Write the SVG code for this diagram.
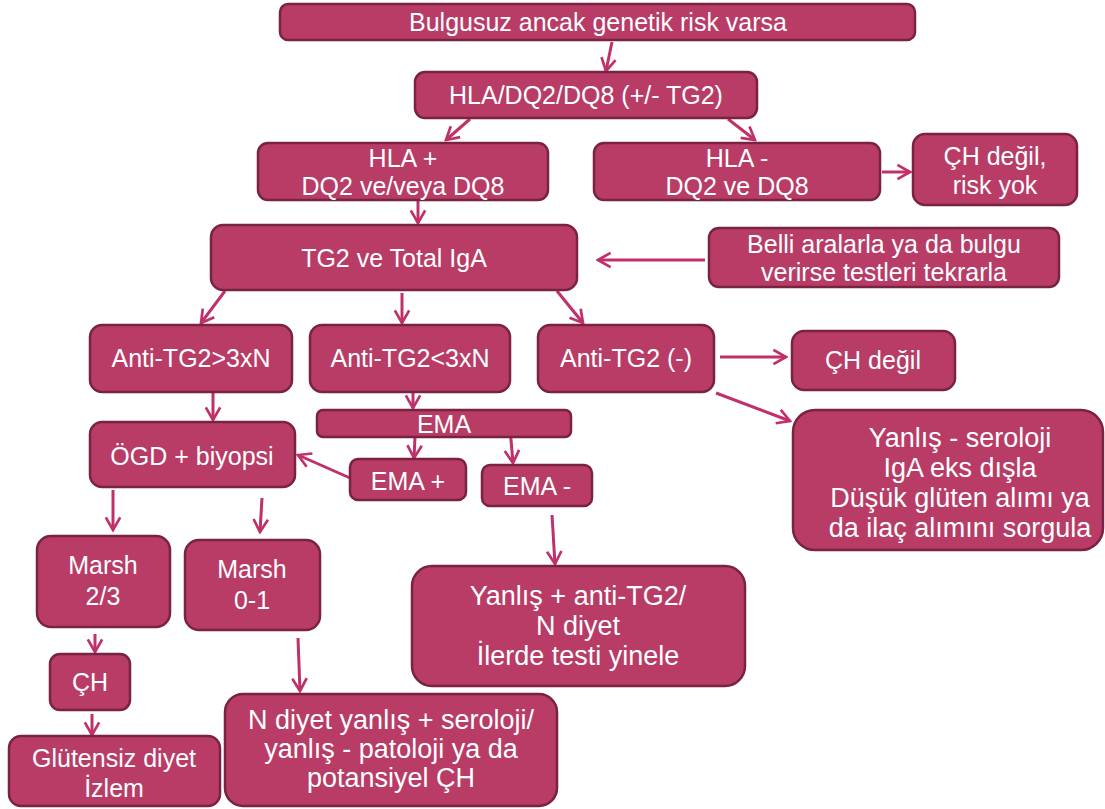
<svg xmlns="http://www.w3.org/2000/svg" width="1105" height="809" viewBox="0 0 1105 809">
<defs>
<style>
.n rect{fill:#b83c66;stroke:#7a2241;stroke-width:2.5}
.n text{fill:#fff;font-family:"Liberation Sans",Arial,sans-serif;font-size:25px;text-anchor:middle}
.n text.b{font-size:27px}
.c line{stroke:#c0306a;stroke-width:3;marker-end:url(#ah)}
</style>
<marker id="ah" viewBox="0 0 20 20" refX="18" refY="10" markerWidth="6" markerHeight="6" markerUnits="strokeWidth" orient="auto">
<path d="M4,2 L18,10 L4,18" fill="none" stroke="#c0306a" stroke-width="3"/>
</marker>
</defs>
<rect width="1105" height="809" fill="#fff"/>
<g class="c">
<line x1="612" y1="42" x2="606" y2="71"/>
<line x1="470" y1="119" x2="446" y2="140"/>
<line x1="728" y1="119" x2="755" y2="140"/>
<line x1="882" y1="172" x2="910" y2="172"/>
<line x1="418" y1="200" x2="418" y2="223"/>
<line x1="705" y1="260" x2="598" y2="260"/>
<line x1="225" y1="291" x2="201" y2="323"/>
<line x1="402" y1="293" x2="402" y2="323"/>
<line x1="557" y1="291" x2="583" y2="323"/>
<line x1="720" y1="357" x2="786" y2="357"/>
<line x1="716" y1="393" x2="790" y2="421"/>
<line x1="213" y1="393" x2="213" y2="420"/>
<line x1="413" y1="392" x2="413" y2="408"/>
<line x1="415" y1="437" x2="414" y2="458"/>
<line x1="510" y1="428" x2="513" y2="463"/>
<line x1="350" y1="478" x2="298" y2="455"/>
<line x1="113" y1="490" x2="113" y2="530"/>
<line x1="262" y1="498" x2="260" y2="532"/>
<line x1="552" y1="515" x2="555" y2="564"/>
<line x1="95" y1="634" x2="95" y2="652"/>
<line x1="298" y1="638" x2="300" y2="691"/>
<line x1="92" y1="714" x2="92" y2="735"/>
</g>
<g id="n1" class="n"><rect x="280" y="4" width="635" height="36" rx="8"/><text x="598" y="31">Bulgusuz ancak genetik risk varsa</text></g>
<g id="n2" class="n"><rect x="415" y="72" width="342" height="46" rx="10"/><text x="586" y="104">HLA/DQ2/DQ8 (+/- TG2)</text></g>
<g id="n3" class="n"><rect x="258" y="143" width="290" height="57" rx="10"/><text x="403" y="167">HLA +</text><text x="403" y="195">DQ2 ve/veya DQ8</text></g>
<g id="n4" class="n"><rect x="594" y="143" width="286" height="57" rx="10"/><text x="737" y="167">HLA -</text><text x="737" y="195">DQ2 ve DQ8</text></g>
<g id="n5" class="n"><rect x="913" y="134" width="164" height="71" rx="12"/><text x="995" y="165">ÇH değil,</text><text x="995" y="194">risk yok</text></g>
<g id="n6" class="n"><rect x="211" y="225" width="366" height="65" rx="12"/><text x="394" y="267">TG2 ve Total IgA</text></g>
<g id="n7" class="n"><rect x="709" y="228" width="350" height="59" rx="10"/><text x="884" y="253">Belli aralarla ya da bulgu</text><text x="884" y="281">verirse testleri tekrarla</text></g>
<g id="n8" class="n"><rect x="90" y="325" width="202" height="67" rx="12"/><text x="191" y="367">Anti-TG2&gt;3xN</text></g>
<g id="n9" class="n"><rect x="310" y="325" width="200" height="67" rx="12"/><text x="410" y="367">Anti-TG2&lt;3xN</text></g>
<g id="n10" class="n"><rect x="538" y="325" width="176" height="67" rx="12"/><text x="626" y="367">Anti-TG2 (-)</text></g>
<g id="n11" class="n"><rect x="792" y="331" width="163" height="59" rx="12"/><text x="873" y="369">ÇH değil</text></g>
<g id="n12" class="n"><rect x="317" y="410" width="254" height="27" rx="6"/><text x="444" y="433">EMA</text></g>
<g id="n13" class="n"><rect x="90" y="422" width="205" height="65" rx="12"/><text x="192" y="465">ÖGD + biyopsi</text></g>
<g id="n14" class="n"><rect x="350" y="459" width="116" height="41" rx="8"/><text x="408" y="490">EMA +</text></g>
<g id="n15" class="n"><rect x="482" y="465" width="110" height="41" rx="8"/><text x="537" y="495">EMA -</text></g>
<g id="n16" class="n"><rect x="793" y="410" width="310" height="140" rx="22"/><text class="b" x="960" y="447">Yanlış - seroloji</text><text class="b" x="960" y="477">IgA eks dışla</text><text class="b" x="960" y="507">Düşük glüten alımı ya</text><text class="b" x="960" y="537">da ilaç alımını sorgula</text></g>
<g id="n17" class="n"><rect x="37" y="536" width="133" height="91" rx="14"/><text x="103" y="574">Marsh</text><text x="103" y="605">2/3</text></g>
<g id="n18" class="n"><rect x="185" y="540" width="135" height="90" rx="14"/><text x="252" y="578">Marsh</text><text x="252" y="609">0-1</text></g>
<g id="n19" class="n"><rect x="412" y="566" width="333" height="120" rx="20"/><text class="b" x="578" y="605">Yanlış + anti-TG2/</text><text class="b" x="578" y="635">N diyet</text><text class="b" x="578" y="665">İlerde testi yinele</text></g>
<g id="n20" class="n"><rect x="50" y="654" width="80" height="56" rx="10"/><text x="90" y="691">ÇH</text></g>
<g id="n21" class="n"><rect x="9" y="736" width="211" height="70" rx="12"/><text x="114" y="767">Glütensiz diyet</text><text x="114" y="797">İzlem</text></g>
<g id="n22" class="n"><rect x="225" y="694" width="332" height="112" rx="18"/><text class="b" x="391" y="729">N diyet yanlış + seroloji/</text><text class="b" x="391" y="758">yanlış - patoloji ya da</text><text class="b" x="391" y="787">potansiyel ÇH</text></g>
</svg>
